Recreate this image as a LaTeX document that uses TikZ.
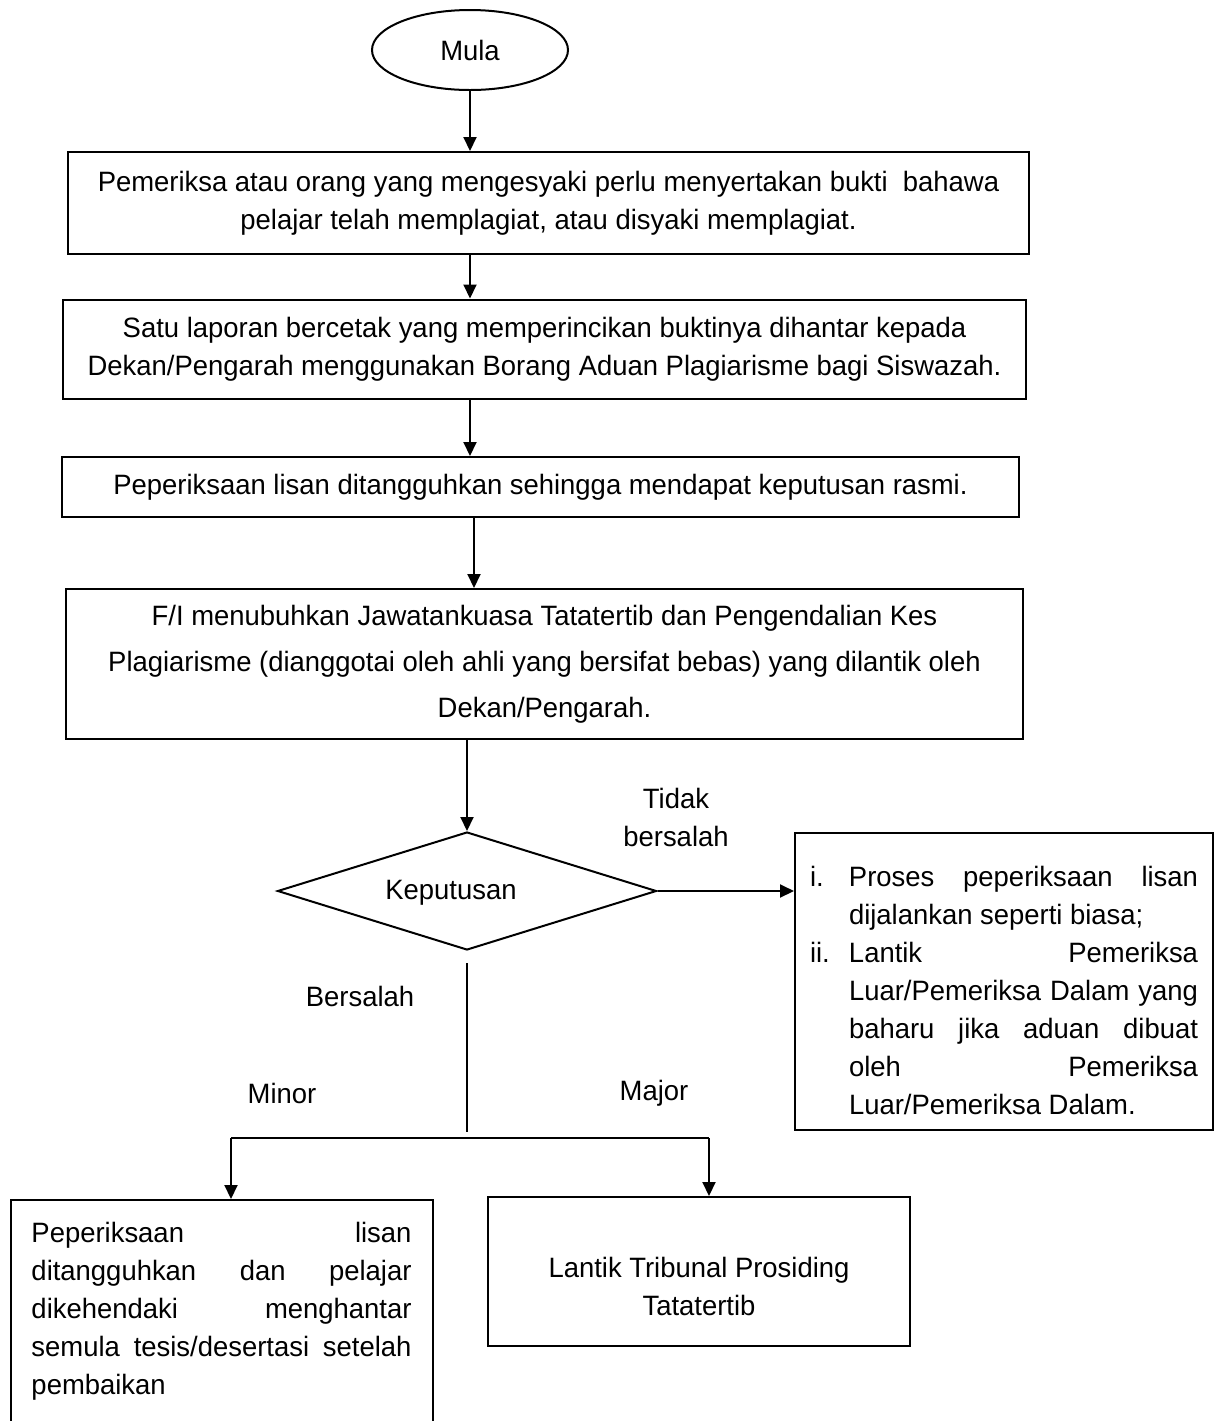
\documentclass[tikz,border=0pt]{standalone}
\usepackage{fontspec}
\setmainfont{Liberation Sans}[FakeStretch=0.98]
\usetikzlibrary{shapes.geometric, arrows.meta, positioning, calc}

\newcommand{\butir}[2]{\par\noindent\hangindent=19.5pt\hangafter=1\hbox to 19.5pt{#1\hfil}#2\par}

\begin{document}
\begin{tikzpicture}[x=0.5pt, y=-0.5pt,
    teks/.style={font=\fontsize{14}{19}\selectfont, inner sep=0pt, align=center},
    kotak/.style={teks, draw, line width=1pt},
    bujur/.style={teks, draw, ellipse, line width=1pt, minimum width=98pt, minimum height=40pt},
    wajik/.style={draw, diamond, line width=1pt, shape aspect=3.2, inner sep=0pt, minimum width=189.5pt, minimum height=59pt},
    panah/.style={line width=1pt, -{Triangle[width=6.5pt, length=7pt]}},
    garis/.style={line width=1pt}]
    \clip (0,0) rectangle (1214,1421);
    \hyphenpenalty=10000 \exhyphenpenalty=10000

    % Start
    \node[bujur] (mula) at (470,50) {Mula};

    % Main steps
    \node[kotak, minimum width=480.5pt, minimum height=51pt] (pemeriksa) at (548.5,203)
        {Pemeriksa atau orang yang mengesyaki perlu menyertakan bukti\ \ bahawa\\pelajar telah memplagiat, atau disyaki memplagiat.};
    \node[kotak, minimum width=481.5pt, minimum height=49.5pt] (laporan) at (544.5,349)
        {Satu laporan bercetak yang memperincikan buktinya dihantar kepada\\Dekan/Pengarah menggunakan Borang Aduan Plagiarisme bagi Siswazah.};
    \node[kotak, minimum width=478.5pt, minimum height=30pt] (tangguh) at (540.5,487)
        {Peperiksaan lisan ditangguhkan sehingga mendapat keputusan rasmi.};
    \node[kotak, minimum width=478.5pt, minimum height=75pt, font=\fontsize{14}{23}\selectfont] (jawatankuasa) at (544.5,664)
        {F/I menubuhkan Jawatankuasa Tatatertib dan Pengendalian Kes\\Plagiarisme (dianggotai oleh ahli yang bersifat bebas) yang dilantik oleh\\Dekan/Pengarah.};

    % Decision
    \node[wajik, label={[teks, xshift=-8pt, yshift=-1pt]center:Keputusan}] (keputusan) at (467,891) {};

    % Outcomes
    \node[kotak, text width=194pt, inner xsep=7.5pt, minimum height=148.5pt, align=justify] (bebas) at (1004,981.5)
        {\butir{i.}{Proses peperiksaan lisan\linebreak dijalankan seperti biasa;}
         \butir{ii.}{Lantik Pemeriksa\linebreak Luar/Pemeriksa Dalam yang\linebreak baharu jika aduan dibuat\linebreak oleh Pemeriksa\linebreak Luar/Pemeriksa Dalam.}};
    \node[kotak, text width=190pt, inner xsep=10.5pt, inner ysep=11pt, align=justify, anchor=north] (minor) at (221.5,1199)
        {Peperiksaan lisan\linebreak ditangguhkan dan pelajar\linebreak dikehendaki menghantar\linebreak semula tesis/desertasi setelah\linebreak pembaikan\par\vspace*{30pt}};
    \node[kotak, minimum width=211pt, minimum height=74.5pt,
        label={[teks, yshift=-7.5pt]center:{Lantik Tribunal Prosiding\\Tatatertib}}] (major) at (699,1271.5) {};

    % Labels
    \node[teks] (lbl tidak) at (676,817) {Tidak\\bersalah};
    \node[teks] (lbl bersalah) at (360,996) {Bersalah};
    \node[teks] (lbl minor) at (282,1093) {Minor};
    \node[teks] (lbl major) at (654,1093) {Major};

    % Arrows
    \draw[panah] (mula.south) -- (mula.south |- pemeriksa.north);
    \draw[panah] (mula.south |- pemeriksa.south) -- (mula.south |- laporan.north);
    \draw[panah] (mula.south |- laporan.south) -- (mula.south |- tangguh.north);
    \draw[panah] ([xshift=2pt]mula.south |- tangguh.south) -- ([xshift=2pt]mula.south |- jawatankuasa.north);
    \draw[panah] (keputusan.north |- jawatankuasa.south) -- (keputusan.north);
    \draw[panah] (keputusan.east) -- (keputusan.east -| bebas.west);

    % Branch
    \coordinate (kiri) at (231,1138);
    \coordinate (kanan) at (709,1138);
    \draw[garis] ([yshift=-6pt]keputusan.south) -- ([yshift=3pt]keputusan.south |- kiri);
    \draw[garis] (kiri) -- (kanan);
    \draw[panah] (kiri) -- (kiri |- minor.north);
    \draw[panah] (kanan) -- (kanan |- major.north);
\end{tikzpicture}
\end{document}
